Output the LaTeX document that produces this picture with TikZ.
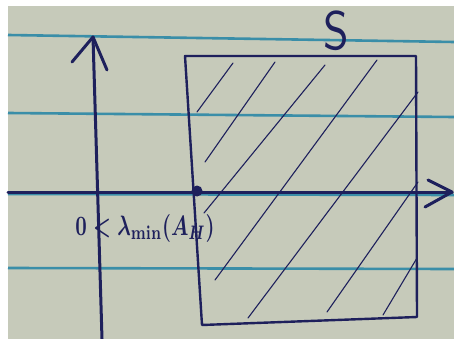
\documentclass[tikz,border=0pt]{standalone}
\usetikzlibrary{calc}
\definecolor{paper}{RGB}{198,202,186}
\definecolor{ink}{RGB}{30,32,92}
\definecolor{rulec}{RGB}{58,142,168}
\begin{document}
\begin{tikzpicture}[x=1pt,y=-1pt,
  rulel/.style={draw=rulec,line width=2.6pt},
  axisl/.style={draw=ink,line width=3pt,line cap=round,line join=round},
  boxl/.style={draw=ink,line width=2.4pt,line join=round},
  hatchl/.style={draw=ink,line width=1.1pt,line cap=round},
  lbl/.style={text=ink,inner sep=0pt}]
\useasboundingbox (0,0) rectangle (454,339);
\fill[white] (0,0) rectangle (454,339);
\fill[paper] (8,6) rectangle (454,339);
% ruled lines of the paper
\draw[rulel] (8,35) -- (454,42);
\draw[rulel] (8,113) -- (454,117);
\draw[rulel] (8,194) -- (454,195);
\draw[rulel] (8,268) -- (454,269);
% hatching
\draw[hatchl] (197,112) -- (233,63);
\draw[hatchl] (205,162) -- (275,62);
\draw[hatchl] (204,213) -- (325,65);
\draw[hatchl] (215,280) -- (377,60);
\draw[hatchl] (248,318) -- (418,92);
\draw[hatchl] (327,312) -- (418,182);
\draw[hatchl] (383,315) -- (417,258);
% region S
\coordinate (tl) at (185,56);
\coordinate (tr) at (416,56);
\coordinate (br) at (417,317);
\coordinate (bl) at (202,325);
\draw[boxl] (tl) -- (tr) -- (br) -- (bl) -- cycle;
% axes
\coordinate (ybot) at (102,339);
\coordinate (ytip) at (93,37);
\coordinate (xl) at (8,192);
\coordinate (xtip) at (452,192);
\draw[axisl] (ybot) -- (ytip);
\draw[axisl] (72,62) -- (ytip) -- (107,70);
\draw[axisl] (xl) -- (xtip);
\draw[axisl] (428,180) -- (xtip) -- (425,207);
% point
\fill[ink] (197,191) circle (5.5);
% labels
\node[lbl,font=\boldmath,xscale=2.0,yscale=2.8] (lab) at (145,228) {$0<\lambda_{\min}(A_H)$};
\node[lbl,xscale=4.6,yscale=5.4] (S) at (336,31) {\textsf{S}};
\end{tikzpicture}
\end{document}
